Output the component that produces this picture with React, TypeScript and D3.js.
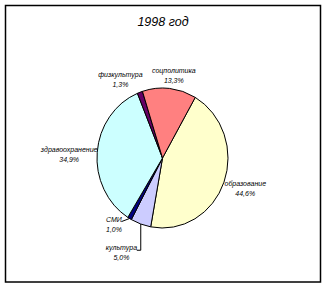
import React from "react";
import * as d3 from "d3";

const categories = ["образование", "культура", "СМИ", "здравоохранение", "физкультура", "соцполитика"];
const values = [44.6, 5.0, 1.0, 34.9, 1.3, 13.3];
const percentLabels = ["44,6%", "5,0%", "1,0%", "34,9%", "1,3%", "13,3%"];
const colors = ["#FFFFCC", "#CCCCFF", "#000080", "#CCFFFF", "#660066", "#FF8080"];
const title = "1998 год";

// label nudges (px) relative to the radial anchor
const nudges: Record<string, [number, number]> = {
  "образование": [9, 1],
  "культура": [-15, 15],
  "СМИ": [-9, -6],
  "здравоохранение": [-15, 3],
  "физкультура": [-15, 0],
  "соцполитика": [3, 1.5],
};
const leaders = new Set(["культура", "СМИ"]);

export default function App() {
  const W = 326, H = 288;
  const cx = 162.5, cy = 158, rx = 65.5, ry = 70;
  const data = categories.map((c, i) => ({ c, v: values[i], p: percentLabels[i], color: colors[i] }));
  const pie = d3.pie<any>().value((d) => d.v).sort(null).startAngle((30 * Math.PI) / 180).endAngle((30 * Math.PI) / 180 + 2 * Math.PI);
  const arcs = pie(data);
  const arc = d3.arc<any>().innerRadius(0).outerRadius(rx);
  const pt = (a: number, k: number) => [cx + rx * k * Math.sin(a), cy - ry * k * Math.cos(a)];
  const fs = 7;
  return (
    <svg width={W} height={H} style={{ position: "absolute", left: 0, top: 0 }}>
      <rect x={0} y={0} width={W} height={H} fill="#fff" />
      <rect x={5.5} y={5.5} width={315} height={276.5} fill="none" stroke="#000" strokeWidth={1.5} />
      <text x={163} y={26} textAnchor="middle" fontFamily="Liberation Sans, Arial, sans-serif" fontStyle="italic" fontSize={12.5} fill="#000">{title}</text>
      <g transform={`translate(${cx},${cy}) scale(1,${ry / rx})`}>
        {arcs.map((a, i) => (
          <path key={i} d={arc(a) as string} fill={a.data.color} stroke="#000" strokeWidth={1} vectorEffect="non-scaling-stroke" />
        ))}
      </g>
      {arcs.map((a, i) => {
        const mid = (a.startAngle + a.endAngle) / 2;
        const [ax, ay] = pt(mid, 1.2);
        const [nx, ny] = nudges[a.data.c] || [0, 0];
        const lx = ax + nx, ly = ay + ny;
        const [ex, ey] = pt(mid, 1);
        let leader = null;
        if (leaders.has(a.data.c)) {
          const halfW = a.data.c.length * 1.8;
          const rightX = lx + halfW;
          if (a.data.c === "культура") {
            leader = <polyline points={`${ex},${ey} ${ex},${ly - 2} ${rightX + 1},${ly - 2}`} fill="none" stroke="#000" strokeWidth={1} />;
          } else {
            leader = <polyline points={`${ex},${ey} ${rightX + 2},${ly - 3}`} fill="none" stroke="#000" strokeWidth={1} />;
          }
        }
        return (
          <g key={"l" + i}>
            {leader}
            <text x={lx} y={ly - 2.5} textAnchor="middle" fontFamily="Liberation Sans, Arial, sans-serif" fontStyle="italic" fontSize={fs} fill="#000">{a.data.c}</text>
            <text x={lx} y={ly + 7.5} textAnchor="middle" fontFamily="Liberation Sans, Arial, sans-serif" fontStyle="italic" fontSize={fs} fill="#000">{a.data.p}</text>
          </g>
        );
      })}
    </svg>
  );
}
